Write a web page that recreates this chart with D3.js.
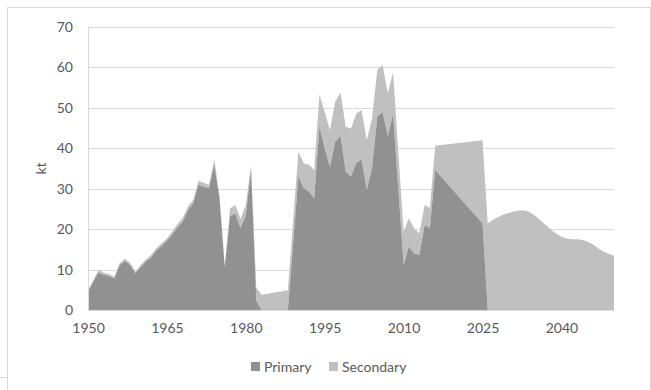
<!DOCTYPE html>
<html>
<head>
<meta charset="utf-8">
<script src="https://cdn.jsdelivr.net/npm/d3@7"></script>
<style>
  html, body { margin: 0; padding: 0; background: #fff; }
  svg { display: block; }
  text { font-family: Lato, "Open Sans", sans-serif; fill: #595959; }
</style>
</head>
<body>
<svg id="chart" width="651" height="390"></svg>
<script>
// ---- data ----
const years = [
  1950,1951,1952,1953,1954,1955,1956,1957,1958,1959,
  1960,1961,1962,1963,1964,1965,1966,1967,1968,1969,
  1970,1971,1972,1973,1974,1975,1976,1977,1978,1979,
  1980,1981,1982,1983,
  1988,1989,
  1990,1991,1992,1993,1994,1995,1996,1997,1998,1999,
  2000,2001,2002,2003,2004,2005,2006,2007,2008,2009,
  2010,2011,2012,2013,2014,2015,2016,
  2025,2026,2027,2028,2029,2030,2031,2032,2033,2034,
  2035,2036,2037,2038,2039,2040,2041,2042,2043,2044,
  2045,2046,2047,2048,2049,2050
];
const primary = [
  4.5,7.0,9.3,8.7,8.4,7.8,11.0,12.1,11.1,9.1,
  10.6,12.0,13.0,14.7,15.8,17.1,18.7,20.4,21.8,24.7,
  26.4,30.9,30.5,30.1,35.9,27.6,10.7,23.1,23.9,20.3,
  23.3,34.8,2.3,0,
  0,16.5,
  33.0,30.1,29.3,27.6,45.3,40.0,35.4,41.6,43.1,34.2,
  33.0,36.3,37.3,29.7,35.0,47.8,49.0,42.9,48.6,30.0,
  11.1,15.7,14.0,13.6,21.0,20.2,34.6,
  21.4,0,0,0,0,0,0,0,0,0,
  0,0,0,0,0,0,0,0,0,0,
  0,0,0,0,0,0
];
const secondary = [
  0.4,0.4,0.6,0.5,0.5,0.4,0.5,0.6,0.6,0.4,
  0.5,0.5,0.6,0.6,0.7,0.6,0.7,0.9,0.9,0.9,
  0.8,1.1,1.0,0.8,1.4,0.8,0.2,2.0,2.1,2.2,
  2.7,1.0,3.2,3.8,
  4.9,5.5,
  6.2,6.2,6.6,7.0,8.0,9.0,9.1,9.9,10.7,11.1,
  11.9,12.3,12.2,12.3,12.4,11.6,11.6,10.7,10.3,9.0,
  8.3,7.0,6.2,5.4,5.0,5.0,6.0,
  20.6,21.4,22.3,23.0,23.6,24.0,24.4,24.6,24.6,24.2,
  23.3,22.2,21.0,19.9,18.9,18.1,17.7,17.5,17.5,17.3,
  16.9,16.2,15.3,14.5,13.9,13.4
];
const xTicks = [1950,1965,1980,1995,2010,2025,2040];
const yTicks = [0,10,20,30,40,50,60,70];
const seriesNames = ["Primary","Secondary"];
const seriesColors = ["#919191","#c0c0c0"];

// ---- layout ----
const svg = d3.select("#chart");
const pL = 88, pR = 614, pT = 27, pB = 310;
const x = d3.scaleLinear().domain([1950, 2050]).range([pL, pR]);
const y = d3.scaleLinear().domain([0, 70]).range([pB, pT]);

// chart frame (cropped outline)
const frame = svg.append("g").attr("stroke", "#d9d9d9").attr("stroke-width", 1).attr("fill", "none");
frame.append("line").attr("x1", 7).attr("x2", 651).attr("y1", 7.5).attr("y2", 7.5);
frame.append("line").attr("x1", 7.5).attr("x2", 7.5).attr("y1", 7).attr("y2", 390);
frame.append("line").attr("x1", 650.5).attr("x2", 650.5).attr("y1", 7).attr("y2", 390);
frame.append("line").attr("x1", 0).attr("x2", 7).attr("y1", 377.5).attr("y2", 377.5);

// gridlines
svg.append("g").selectAll("line").data(yTicks).join("line")
  .attr("x1", pL).attr("x2", pR)
  .attr("y1", d => Math.round(y(d)) + 0.5).attr("y2", d => Math.round(y(d)) + 0.5)
  .attr("stroke", "#d9d9d9").attr("stroke-width", 1);

// areas
const rows = years.map((yr, i) => ({ yr, p: primary[i], s: secondary[i] }));
const areaSec = d3.area().x(d => x(d.yr)).y0(d => y(d.p)).y1(d => y(d.p + d.s));
const areaPri = d3.area().x(d => x(d.yr)).y0(y(0)).y1(d => y(d.p));
svg.append("path").datum(rows).attr("d", areaSec).attr("fill", seriesColors[1]);
svg.append("path").datum(rows).attr("d", areaPri).attr("fill", seriesColors[0]);

// axis lines
svg.append("line").attr("x1", pL).attr("x2", pR).attr("y1", pB + 0.5).attr("y2", pB + 0.5)
  .attr("stroke", "#d9d9d9");
svg.append("line").attr("x1", pL + 0.5).attr("x2", pL + 0.5).attr("y1", pT).attr("y2", pB)
  .attr("stroke", "#d9d9d9");

// y tick labels
const yAxis = d3.axisLeft(y).tickValues(yTicks).tickSize(0).tickPadding(15);
const gy = svg.append("g").attr("transform", `translate(${pL},0)`).call(yAxis);
gy.select(".domain").remove();
gy.selectAll("text").style("font-family", "Lato, 'Open Sans', sans-serif")
  .style("font-size", "14px").attr("fill", "#595959");

// x tick labels
const xAxis = d3.axisBottom(x).tickValues(xTicks).tickFormat(d3.format("d")).tickSize(0).tickPadding(13);
const gx = svg.append("g").attr("transform", `translate(0,${pB})`).call(xAxis);
gx.select(".domain").remove();
gx.selectAll("text").style("font-family", "Lato, 'Open Sans', sans-serif")
  .style("font-size", "14px").attr("fill", "#595959");

// y axis title
svg.append("text").attr("transform", `translate(46,${(pT + pB) / 2}) rotate(-90)`)
  .attr("text-anchor", "middle").style("font-size", "14px").text("kt");

// legend
const legend = svg.append("g");
const items = [{ name: seriesNames[0], color: seriesColors[0], x: 251 },
               { name: seriesNames[1], color: seriesColors[1], x: 329 }];
items.forEach(it => {
  legend.append("rect").attr("x", it.x).attr("y", 362).attr("width", 9).attr("height", 9).attr("fill", it.color);
  legend.append("text").attr("x", it.x + 13).attr("y", 371.5).style("font-size", "14px").text(it.name);
});
</script>
</body>
</html>
